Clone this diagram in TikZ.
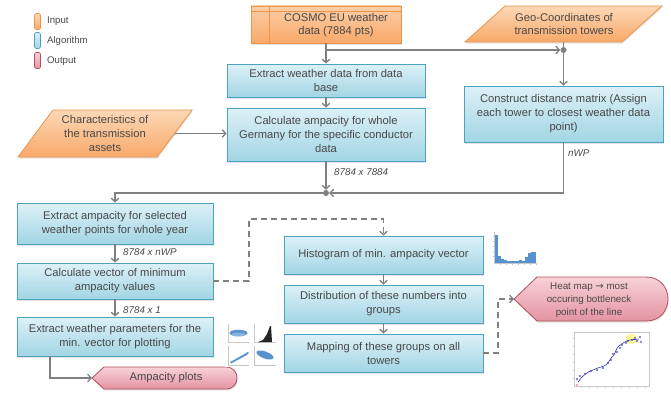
\documentclass[tikz,border=0pt]{standalone}
\usepackage{fontspec}
\setmainfont{Liberation Sans}
\newfontfamily\arrowfont{DejaVu Sans}
\usetikzlibrary{arrows.meta,shadows}

\definecolor{algotop}{HTML}{DDF1F7}
\definecolor{algobot}{HTML}{A2D5E4}
\definecolor{algoedge}{HTML}{4BA3BD}
\definecolor{intop}{HTML}{FDD8B6}
\definecolor{inbot}{HTML}{F8A96A}
\definecolor{inedge}{HTML}{EE9448}
\definecolor{outtop}{HTML}{F8D2D8}
\definecolor{outbot}{HTML}{E493A1}
\definecolor{outedge}{HTML}{B4505E}
\definecolor{linegray}{HTML}{808080}
\definecolor{txt}{HTML}{484848}
\definecolor{plotblue}{HTML}{5592CE}
\definecolor{axisgray}{HTML}{C8C8C8}

\begin{document}
\begin{tikzpicture}[x=1pt,y=-1pt,
  boxshadow/.style={drop shadow={opacity=.22,shadow xshift=0.6pt,shadow yshift=-1.6pt}},
  algo/.style={draw=algoedge,line width=0.8pt,top color=algotop,bottom color=algobot,
    text=txt,align=center,font=\fontsize{11.2}{14}\selectfont,inner sep=1pt,boxshadow},
  inshape/.style={draw=inedge,line width=0.8pt,top color=intop,bottom color=inbot,boxshadow},
  outshape/.style={draw=outedge,line width=0.8pt,top color=outtop,bottom color=outbot,boxshadow},
  label/.style={text=txt,align=center,font=\fontsize{11.2}{13.6}\selectfont},
  dimlabel/.style={text=txt,anchor=west,font=\fontsize{9.8}{12}\itshape\selectfont,inner sep=0pt},
  conn/.style={draw=linegray,line width=1.3pt,-{Straight Barb[length=3.5pt,width=7.5pt]}},
  dconn/.style={conn,dashed,dash pattern=on 6pt off 4pt},
  jdot/.style={circle,fill=linegray,inner sep=0pt,minimum size=6pt},
  legkey/.style={rounded corners=1.5pt,line width=0.7pt,minimum width=6pt,minimum height=16pt,inner sep=0pt},
  legtext/.style={anchor=west,text=txt,font=\fontsize{9.6}{12}\selectfont,inner sep=0pt}
]
\useasboundingbox (0,0) rectangle (671,396);

% ---------- legend ----------
\node[legkey,draw=inedge,top color=intop,bottom color=inbot] (kin) at (37.5,21.5) {};
\node[legkey,draw=algoedge,top color=algotop,bottom color=algobot] (kalg) at (37.5,40.5) {};
\node[legkey,draw=outedge,top color=outtop,bottom color=outbot] (kout) at (37.5,60.5) {};
\node[legtext] (tin) at (47,21) {Input};
\node[legtext] (talg) at (47,41) {Algorithm};
\node[legtext] (tout) at (47,61) {Output};

% ---------- inputs ----------
% internal-storage block for the weather data base
\node[draw=inedge,line width=0.8pt,top color=intop!80!inbot,bottom color=inbot,boxshadow,
  minimum width=150pt,minimum height=37pt,inner sep=0pt] (cosmo) at (326,24.5) {};
\draw[inedge,line width=0.8pt] ([xshift=19pt]cosmo.north west) -- ([xshift=19pt]cosmo.south west);
\draw[inedge,line width=0.8pt] ([yshift=-6pt]cosmo.north west) -- ([yshift=-6pt]cosmo.north east);
\node[label] (cosmotext) at (336,25) {COSMO EU weather\\data (7884 pts)};

% parallelogram for the tower coordinates
\path[inshape] (465,42) -- (622,42) -- (662,6) -- (505,6) -- cycle;
\node[label] (geo) at (564,24) {Geo-Coordinates of\\transmission towers};
\coordinate (geoB) at (563.5,42);

% parallelogram for the asset characteristics
\path[inshape] (18,157) -- (157,157) -- (192,110) -- (53,110) -- cycle;
\node[label] (char) at (105,133.5) {Characteristics of\\the transmission\\assets};
\coordinate (charR) at (174.5,133.5);

% ---------- algorithm blocks ----------
\node[algo,minimum width=198pt,minimum height=33pt] (ewd) at (326,80.5)
  {Extract weather data from data\\base};
\node[algo,minimum width=198pt,minimum height=53pt] (calc) at (326,134.5)
  {Calculate ampacity for whole\\Germany for the specific conductor\\data};
\node[algo,minimum width=199pt,minimum height=56pt] (construct) at (563.5,114)
  {Construct distance matrix (Assign\\each tower to closest weather data\\point)};
\node[algo,minimum width=196pt,minimum height=41pt] (extamp) at (115,223.5)
  {Extract ampacity for selected\\weather points for whole year};
\node[algo,minimum width=196pt,minimum height=36pt] (calcvec) at (115,281)
  {Calculate vector of minimum\\ampacity values};
\node[algo,minimum width=196pt,minimum height=39pt] (extweather) at (115,336.5)
  {Extract weather parameters for the\\min. vector for plotting};
\node[algo,minimum width=199pt,minimum height=38pt] (hist) at (383.5,255)
  {Histogram of min. ampacity vector};
\node[algo,minimum width=199pt,minimum height=38pt] (distr) at (383.5,304)
  {Distribution of these numbers into\\groups};
\node[algo,minimum width=199pt,minimum height=38pt] (mapping) at (383.5,353)
  {Mapping of these groups on all\\towers};

% ---------- outputs ----------
\path[outshape] (92,378) -- (104,367) -- (226,367)
  .. controls (240.7,367) and (240.7,389) .. (226,389) -- (104,389) -- cycle;
\node[label] (ampplots) at (166,378) {Ampacity plots};
\coordinate (amptip) at (92,378);

\path[outshape] (514,299) -- (537,277) -- (646,277)
  .. controls (675.3,277) and (675.3,321) .. (646,321) -- (537,321) -- cycle;
\node[label,font=\fontsize{9.8}{13}\selectfont] (heat) at (589,300)
  {Heat map {\arrowfont\fontsize{10}{13}\selectfont →} most\\occuring bottleneck\\point of the line};
\coordinate (heattip) at (514,299);

% ---------- junctions ----------
\node[jdot] (geodot) at (563.5,50) {};
\node[jdot] (mergedot) at (326,193) {};
\coordinate (j1) at (326,50);
\coordinate (d1) at (249,219);
\coordinate (d2) at (498,299);
\coordinate (plotsrc) at (50,356);

% ---------- connectors ----------
\draw[conn] (cosmo.south) -- (ewd.north);
\draw[conn] (j1) -- (geodot);
\draw[conn] (geoB) -- (construct.north);
\draw[conn] (ewd.south) -- (calc.north);
\draw[conn] (charR) -- (calc.west |- charR);
\draw[conn] (calc.south) -- (mergedot);
\draw[conn] (construct.south) |- (mergedot);
\draw[conn] (mergedot) -| (extamp.north);
\draw[conn] (extamp.south) -- (calcvec.north);
\draw[conn] (calcvec.south) -- (extweather.north);
\draw[conn] (plotsrc) |- (amptip);
\draw[dconn] (calcvec.east) -| (d1) -| (hist.north);
\draw[conn] (hist.south) -- (distr.north);
\draw[conn] (distr.south) -- (mapping.north);
\draw[dconn] (mapping.east) -| (d2) -- (heattip);

% dimension labels
\node[dimlabel] (dimA) at (334,172) {8784 x 7884};
\node[dimlabel] (dimB) at (568,153) {nWP};
\node[dimlabel] (dimC) at (123,252) {8784 x nWP};
\node[dimlabel] (dimD) at (123,310) {8784 x 1};

% ---------- histogram thumbnail ----------
\begin{scope}[shift={(490,230)}]
  \fill[white] (0,0) rectangle (47,37);
  \draw[axisgray,line width=0.4pt] (4,2) -- (4,33) -- (46,33);
  \foreach \y in {6,11,16,21,26} \draw[axisgray,line width=0.3pt] (2.5,\y) -- (4,\y);
  \foreach \x in {10,16,22,28,34,40,46} \draw[axisgray,line width=0.3pt] (\x,33) -- (\x,34.5);
  \fill[plotblue] (4.5,33) rectangle (7.5,5);
  \fill[plotblue] (7.5,33) rectangle (10.5,26);
  \fill[plotblue] (10.5,33) rectangle (13.5,28.5);
  \fill[plotblue] (13.5,33) rectangle (16.5,30);
  \fill[plotblue] (16.5,33) rectangle (19.5,31.3);
  \fill[plotblue] (19.5,33) rectangle (22.5,31);
  \fill[plotblue] (22.5,33) rectangle (25.5,31.3);
  \fill[plotblue] (25.5,33) rectangle (28.5,30.5);
  \fill[plotblue] (28.5,33) rectangle (31.5,29.5);
  \fill[plotblue] (31.5,33) rectangle (34.5,31);
  \fill[plotblue] (34.5,33) rectangle (37.5,26.5);
  \fill[plotblue] (37.5,33) rectangle (40.5,22.5);
  \fill[plotblue] (40.5,33) rectangle (45.5,22);
\end{scope}

% ---------- weather-parameter plot thumbnails ----------
\begin{scope}[shift={(225,323)}]
  \fill[white] (0,0) rectangle (52,44);
  % top left
  \draw[axisgray,line width=0.3pt] (3,1) -- (3,19) -- (24,19);
  \fill[plotblue] (13.5,10) ellipse [x radius=9pt,y radius=3.2pt];
  \fill[plotblue!70] (13.5,11.5) ellipse [x radius=7pt,y radius=2pt];
  % top right
  \draw[axisgray,line width=0.3pt] (29,1) -- (29,19) -- (51,19);
  \fill[black!85] (33,19) -- (38,17) -- (42,11) -- (45,3) -- (46,3) -- (47,19) -- cycle;
  % bottom left
  \draw[axisgray,line width=0.3pt] (3,23) -- (3,42) -- (24,42);
  \fill[plotblue] (5,39) -- (8,37.5) -- (23,29) -- (24,30) -- (21,32.5) -- (6,40.5) -- cycle;
  % bottom right
  \draw[axisgray,line width=0.3pt] (29,23) -- (29,42) -- (51,42);
  \fill[plotblue,rotate around={-20:(40,32)}] (40,32) ellipse [x radius=9pt,y radius=3.5pt];
\end{scope}

% ---------- tower mapping scatter thumbnail ----------
\begin{scope}[shift={(565,330)}]
  \fill[white] (0,0) rectangle (86,64);
  \draw[axisgray,line width=0.4pt] (9,2) rectangle (84,56);
  \foreach \y in {8,16,24,32,40,48} \draw[axisgray,line width=0.3pt] (7.5,\y) -- (9,\y);
  \foreach \x in {16,24,32,40,48,56,64,72,80} \draw[axisgray,line width=0.3pt] (\x,56) -- (\x,57.5);
  \fill[yellow!60,opacity=0.7] (66,9) circle [radius=5.5pt];
  \draw[blue!65!black!80,line width=0.6pt] (13,52) .. controls (18,45) and (22,42) .. (28,40)
    .. controls (34,37) and (38,37) .. (41,35) .. controls (45,31) and (46,27) .. (49,25)
    .. controls (51,22) and (51,18) .. (54,16) .. controls (57,14) and (60,11) .. (65,10)
    .. controls (69,9) and (71,10) .. (74,9);
  \foreach \p in {(12,49),(15,46),(20,44),(26,41),(32,40),(38,38),(43,33),(46,30),(48,24),
                  (52,22),(55,18),(57,15),(61,13),(63,11),(67,10),(70,8),(75,7),(76,12),(72,11)}
    \draw[blue!70!black!70,line width=0.35pt] \p circle [radius=0.9pt];
  \fill[red!70] (12,55) circle [radius=0.8pt];
\end{scope}

\end{tikzpicture}
\end{document}
